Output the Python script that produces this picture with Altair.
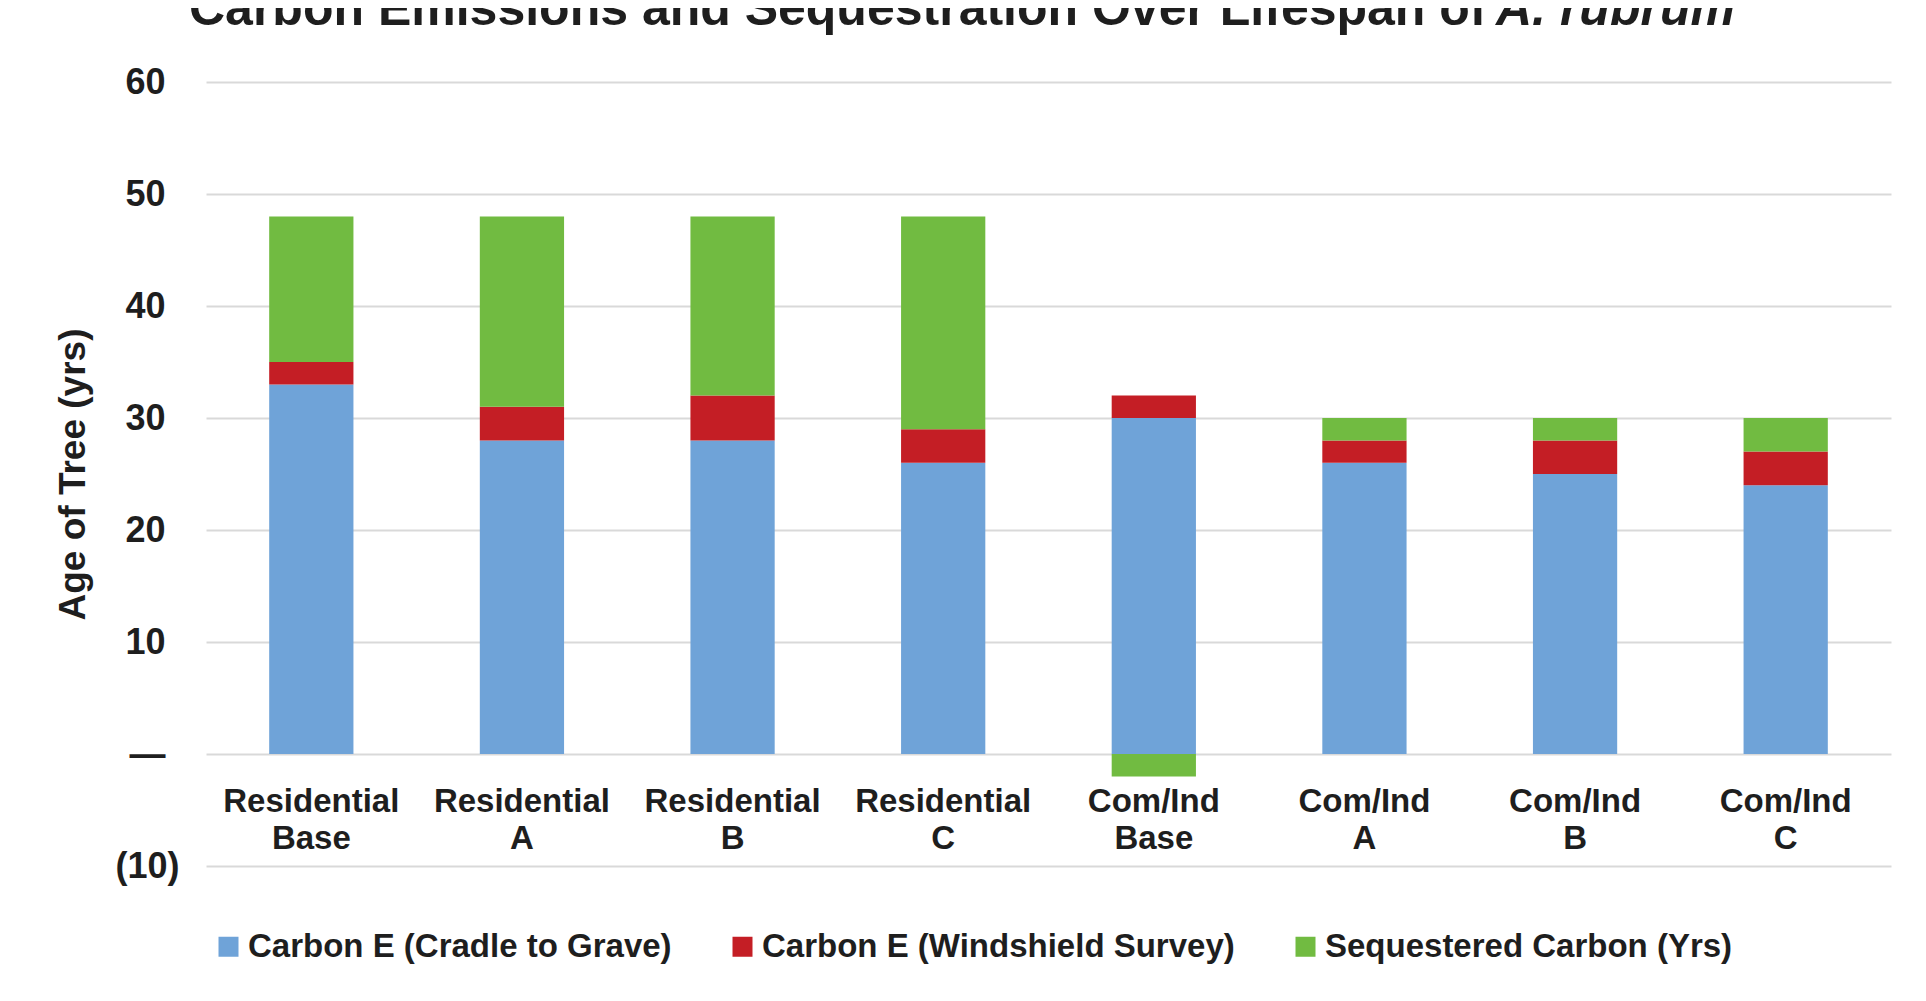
import altair as alt
import pandas as pd

categories = ["Residential Base", "Residential A", "Residential B", "Residential C",
              "Com/Ind Base", "Com/Ind A", "Com/Ind B", "Com/Ind C"]
series_names = ["Carbon E (Cradle to Grave)", "Carbon E (Windshield Survey)", "Sequestered Carbon (Yrs)"]
cradle = [33, 28, 28, 26, 30, 26, 25, 24]
windshield = [2, 3, 4, 3, 2, 2, 3, 3]
sequestered = [13, 17, 16, 19, -2, 2, 2, 3]
colors = ["#6fa3d8", "#c41e25", "#71bb41"]
y_ticks = [-10, 0, 10, 20, 30, 40, 50, 60]
title_main = "Carbon Emissions and Sequestration Over Lifespan of"
title_italic = "A. rubrum"
y_title = "Age of Tree (yrs)"

rows = []
for si, (name, vals) in enumerate(zip(series_names, [cradle, windshield, sequestered])):
    for c, v in zip(categories, vals):
        rows.append({"category": c, "series": name, "value": v, "order": si})
df = pd.DataFrame(rows)

FONT = "Liberation Sans"
TXT = "#1e1e1e"

bars = alt.Chart(df).mark_bar().encode(
    x=alt.X("category:N", sort=categories,
            scale=alt.Scale(paddingInner=0.6, paddingOuter=0.3),
            axis=alt.Axis(title=None, orient="bottom", offset=-112, domain=False, ticks=False,
                          labelAngle=0, labelPadding=31, labelFontSize=33, labelFont=FONT,
                          labelFontWeight="bold", labelColor=TXT, labelLineHeight=37,
                          labelExpr="split(datum.label, ' ')", grid=False)),
    y=alt.Y("value:Q", stack="zero",
            scale=alt.Scale(domain=[-10, 60], nice=False, zero=False),
            axis=alt.Axis(title=y_title, values=y_ticks, domain=False, ticks=False,
                          gridColor="#d9d9d9", gridWidth=2,
                          labelFontSize=36, labelFont=FONT, labelFontWeight="bold", labelColor=TXT,
                          labelPadding={"condition": {"test": "datum.value < 0", "value": 27}, "value": 41},
                          labelExpr="datum.value == 0 ? '\u2014' : (datum.value < 0 ? '(' + abs(datum.value) + ')' : datum.value)",
                          titleFontSize=37, titleFont=FONT, titleFontWeight="bold", titleColor=TXT,
                          titlePadding=22)),
    color=alt.Color("series:N", sort=series_names,
                    scale=alt.Scale(domain=series_names, range=colors),
                    legend=alt.Legend(title=None, orient="none", legendX=6, legendY=848,
                                      direction="horizontal", symbolType="square", symbolSize=400,
                                      symbolStrokeWidth=0, labelFontSize=33, labelFont=FONT,
                                      labelFontWeight="bold", labelColor=TXT, columnPadding=54,
                                      labelOffset=3, labelLimit=1000)),
    order=alt.Order("order:Q", sort="ascending"),
)

tdf = pd.DataFrame({"a": [title_main], "b": [title_italic]})
t1 = alt.Chart(tdf).mark_text(font=FONT, fontSize=50, fontWeight="bold", align="left",
                              baseline="alphabetic", color=TXT).encode(
    text="a:N", x=alt.value(-17), y=alt.value(-57))
t2 = alt.Chart(tdf).mark_text(font=FONT, fontSize=50, fontWeight="bold", fontStyle="italic",
                              align="left", baseline="alphabetic", color=TXT).encode(
    text="b:N", x=alt.value(1290), y=alt.value(-57))

chart = alt.layer(bars, t1, t2).properties(
    width=1685, height=784,
    autosize=alt.AutoSizeParams(type="none"),
    padding={"left": 198, "top": 74, "right": 27, "bottom": 120},
    background="white",
).configure_view(stroke=None)

chart.save("out.html", embed_options={"renderer": "svg", "actions": False})
